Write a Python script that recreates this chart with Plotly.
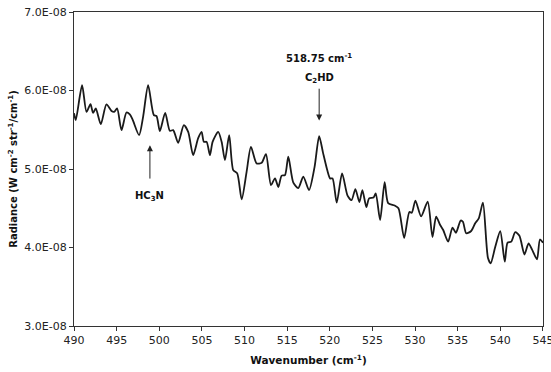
import plotly.graph_objects as go

wavenumber = [490.00, 490.20, 490.94, 491.46, 491.93, 492.23, 492.55, 493.14, 493.80, 494.39,
              494.70, 495.05, 495.57, 496.15, 496.54, 496.86, 497.63, 498.10, 498.69, 499.36,
              499.68, 500.06, 500.69, 501.24, 501.63, 502.21, 502.88, 503.39, 503.97, 504.56,
              504.96, 505.23, 505.55, 505.94, 506.25, 506.91, 507.31, 507.70, 508.20, 508.67,
              509.14, 509.66, 510.24, 510.75, 511.42, 512.01, 512.51, 513.10, 513.57, 513.96,
              514.35, 514.74, 515.13, 515.72, 516.30, 516.89, 517.56, 518.21, 518.75, 519.20,
              519.73, 520.03, 520.32, 520.81, 521.44, 522.08, 522.55, 523.00, 523.47, 523.82,
              524.29, 524.61, 525.13, 525.39, 525.90, 526.43, 526.84, 527.60, 528.05, 528.72,
              529.33, 529.62, 530.04, 530.71, 531.48, 532.04, 532.47, 532.94, 533.30, 533.88,
              534.39, 534.79, 535.35, 535.61, 536.00, 536.58, 537.05, 537.47, 537.96, 538.55,
              538.87, 539.40, 539.99, 540.52, 540.85, 541.28, 541.75, 542.24, 542.83, 543.31,
              543.71, 544.30, 544.65, 545.00]

radiance = [5.711e-8, 5.622e-8, 6.067e-8, 5.728e-8, 5.826e-8, 5.715e-8, 5.771e-8, 5.571e-8, 5.822e-8, 5.740e-8,
            5.728e-8, 5.771e-8, 5.495e-8, 5.720e-8, 5.695e-8, 5.631e-8, 5.431e-8, 5.664e-8, 6.067e-8, 5.686e-8,
            5.673e-8, 5.482e-8, 5.715e-8, 5.486e-8, 5.495e-8, 5.333e-8, 5.558e-8, 5.473e-8, 5.177e-8, 5.393e-8,
            5.473e-8, 5.346e-8, 5.346e-8, 5.177e-8, 5.346e-8, 5.473e-8, 5.346e-8, 5.113e-8, 5.431e-8, 4.986e-8,
            4.944e-8, 4.613e-8, 4.964e-8, 5.282e-8, 5.071e-8, 5.079e-8, 5.190e-8, 4.795e-8, 4.880e-8, 4.770e-8,
            4.916e-8, 4.922e-8, 5.158e-8, 4.827e-8, 4.757e-8, 4.903e-8, 4.731e-8, 5.024e-8, 5.419e-8, 5.209e-8,
            4.973e-8, 4.880e-8, 4.880e-8, 4.572e-8, 4.944e-8, 4.661e-8, 4.604e-8, 4.744e-8, 4.579e-8, 4.731e-8,
            4.515e-8, 4.626e-8, 4.636e-8, 4.689e-8, 4.350e-8, 4.833e-8, 4.566e-8, 4.534e-8, 4.499e-8, 4.121e-8,
            4.452e-8, 4.443e-8, 4.598e-8, 4.397e-8, 4.583e-8, 4.134e-8, 4.392e-8, 4.286e-8, 4.223e-8, 4.074e-8,
            4.254e-8, 4.188e-8, 4.343e-8, 4.328e-8, 4.181e-8, 4.210e-8, 4.308e-8, 4.371e-8, 4.570e-8, 3.866e-8,
            3.799e-8, 4.006e-8, 4.207e-8, 3.819e-8, 4.061e-8, 4.074e-8, 4.195e-8, 4.149e-8, 3.911e-8, 4.053e-8,
            3.977e-8, 3.850e-8, 4.102e-8, 4.061e-8]

x_ticks = [490, 495, 500, 505, 510, 515, 520, 525, 530, 535, 540, 545]
x_tick_labels = ["490", "495", "500", "505", "510", "515", "520", "525", "530", "535", "540", "545"]
y_ticks = [3.0e-8, 4.0e-8, 5.0e-8, 6.0e-8, 7.0e-8]
y_tick_labels = ["3.0E-08", "4.0E-08", "5.0E-08", "6.0E-08", "7.0E-08"]

FONT = "DejaVu Sans"

fig = go.Figure()
fig.add_trace(go.Scatter(
    x=wavenumber, y=radiance, mode="lines",
    line=dict(color="#1a1a1a", width=1.8, shape="spline", smoothing=0.7),
    showlegend=False, hoverinfo="skip", cliponaxis=True,
))

axis_common = dict(
    showgrid=False, zeroline=False, showline=True, linecolor="#333333", linewidth=1.3,
    mirror=True, ticks="outside", ticklen=4, tickcolor="#333333", tickwidth=1,
    tickfont=dict(family=FONT, size=11, color="#222222"),
    ticklabeloverflow="allow", automargin=False,
)

fig.update_xaxes(range=[489.995, 545.005], tickvals=x_ticks, ticktext=x_tick_labels,
                 title=dict(text="<b>Wavenumber (cm<sup>-1</sup>)</b>", font=dict(family=FONT, size=10.5, color="#111111"), standoff=10),
                 **axis_common)
fig.update_yaxes(range=[3.0e-8, 7.0e-8], tickvals=y_ticks, ticktext=y_tick_labels,
                 title=dict(text="<b>Radiance (W cm<sup>-2</sup> str<sup>-1</sup>/cm<sup>-1</sup>)</b>", font=dict(family=FONT, size=10, color="#111111"), standoff=4),
                 **axis_common)

ann_font = dict(family=FONT, size=10, color="#111111")
annotations = [
    dict(x=518.75, y=5.617e-8, ax=518.75, ay=6.042e-8, axref="x", ayref="y",
         xref="x", yref="y", text="", showarrow=True, arrowhead=2, arrowsize=1.2,
         arrowwidth=1, arrowcolor="#222222"),
    dict(x=518.75, y=6.156e-8, xref="x", yref="y", text="<b>C<sub>2</sub>HD</b>",
         showarrow=False, font=ann_font),
    dict(x=518.75, y=6.411e-8, xref="x", yref="y", text="<b>518.75 cm<sup>-1</sup></b>",
         showarrow=False, font=ann_font),
    dict(x=498.9, y=5.304e-8, ax=498.9, ay=4.859e-8, axref="x", ayref="y",
         xref="x", yref="y", text="", showarrow=True, arrowhead=2, arrowsize=1.2,
         arrowwidth=1, arrowcolor="#222222"),
    dict(x=498.9, y=4.655e-8, xref="x", yref="y", text="<b>HC<sub>3</sub>N</b>",
         showarrow=False, font=ann_font),
]

fig.update_layout(
    width=551, height=372,
    margin=dict(l=74, r=8, t=12, b=46),
    paper_bgcolor="white", plot_bgcolor="white",
    annotations=annotations,
)

fig.write_html("out.html")
